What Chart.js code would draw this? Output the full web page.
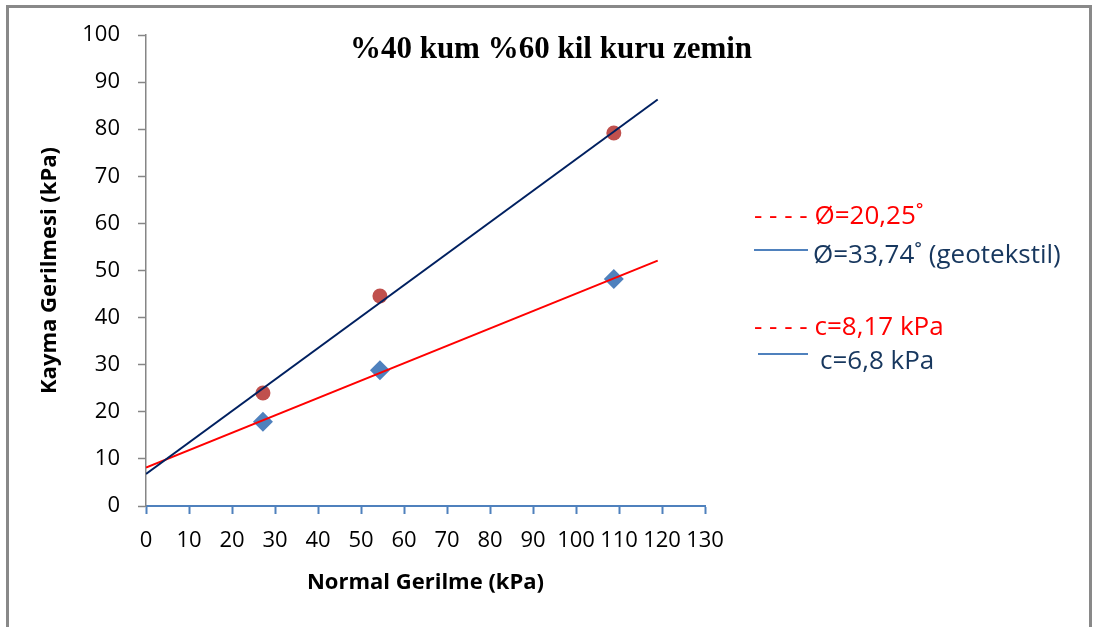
<!DOCTYPE html>
<html>
<head>
<meta charset="utf-8">
<script src="https://cdn.jsdelivr.net/npm/chart.js@4.4.1/dist/chart.umd.min.js"></script>
<style>
  html, body { margin: 0; padding: 0; background: #fff; overflow: hidden; }
  #wrap { position: relative; width: 1093px; height: 627px; }
  #frame { position: absolute; left: 6px; top: 5px; width: 1080px; height: 700px;
           border: 3px solid #898989; border-bottom: none; }
  #title { position: absolute; left: 300px; top: 30px; width: 502px; text-align: center;
           font: bold 31px "Liberation Serif", "Times New Roman", serif; white-space: nowrap; }
  .leg { position: absolute; font: 26px "Open Sans", sans-serif; white-space: nowrap; line-height: 30px; }
  .red { color: #ff0000; }
  .navy { color: #17375e; }
  .sw { position: absolute; height: 2px; background: #4f81bd; }
  canvas { position: absolute; left: 0; top: 0; }
</style>
</head>
<body>
<div id="wrap">
  <div id="frame"></div>
  <canvas id="c" width="1093" height="627"></canvas>
  <div id="title">%40 kum %60 kil kuru zemin</div>
  <div class="leg red" style="left:754px; top:199px;">- - - - Ø=20,25˚</div>
  <div class="sw" style="left:754px; top:249px; width:54px;"></div>
  <div class="leg navy" style="left:813px; top:238px;">Ø=33,74˚ (geotekstil)</div>
  <div class="leg red" style="left:754px; top:310px;">- - - - c=8,17 kPa</div>
  <div class="sw" style="left:758px; top:353px; width:50px;"></div>
  <div class="leg navy" style="left:820px; top:344px;">c=6,8 kPa</div>
</div>
<script>
// deney noktalari (normal gerilme, kayma gerilmesi)
const normalStress = [27.2, 54.4, 108.8];
const shearPlain = [17.9, 28.8, 48.2];      // mavi karolar
const shearGeo = [24.0, 44.6, 79.2];        // kirmizi daireler

// egilim cizgileri: uc noktalar
const trendX = [0, 119];
const trendRed = [8.17, 52.1];
const trendNavy = [6.8, 86.3];

const xTicks = [0, 10, 20, 30, 40, 50, 60, 70, 80, 90, 100, 110, 120, 130];
const yTicks = [0, 10, 20, 30, 40, 50, 60, 70, 80, 90, 100];

function pts(xs, ys) {
  return xs.map((x, i) => ({ x: x, y: ys[i] }));
}

const tickFont = { family: '"Open Sans", sans-serif', size: 22 };
const titleFont = { family: '"Open Sans", sans-serif', size: 22, weight: 'bold' };

new Chart(document.getElementById('c'), {
  type: 'scatter',
  data: {
    datasets: [
      {
        data: pts(trendX, trendNavy), showLine: true, borderColor: '#002060',
        borderWidth: 2, pointRadius: 0, order: 0
      },
      {
        data: pts(trendX, trendRed), showLine: true, borderColor: '#ff0000',
        borderWidth: 2, pointRadius: 0, order: 0
      },
      {
        data: pts(normalStress, shearGeo), pointStyle: 'circle', pointRadius: 7.5,
        backgroundColor: '#c0504d', borderColor: '#c0504d', borderWidth: 0, order: 1
      },
      {
        data: pts(normalStress, shearPlain), pointStyle: 'rectRot', pointRadius: 10,
        backgroundColor: '#4f81bd', borderColor: '#4f81bd', borderWidth: 0, order: 1
      }
    ]
  },
  options: {
    responsive: false,
    animation: false,
    devicePixelRatio: 1,
    layout: { padding: { left: 37, top: 35, right: 388, bottom: 31 } },
    plugins: { legend: { display: false }, tooltip: { enabled: false } },
    scales: {
      x: {
        type: 'linear', min: 0, max: 130,
        afterBuildTicks: s => { s.ticks = xTicks.map(v => ({ value: v })); },
        afterFit: s => { s.height = 90; },
        border: { color: '#4f81bd', width: 2 },
        grid: { drawOnChartArea: false, tickLength: 8, tickColor: '#4f81bd', tickWidth: 2 },
        ticks: { font: tickFont, color: '#000', padding: 14, maxRotation: 0, autoSkip: false },
        title: { display: true, text: 'Normal Gerilme (kPa)', font: titleFont, color: '#000', padding: 0 }
      },
      y: {
        type: 'linear', min: 0, max: 100,
        afterBuildTicks: s => { s.ticks = yTicks.map(v => ({ value: v })); },
        afterFit: s => { s.width = 109; },
        border: { color: '#868686', width: 1.5 },
        grid: { drawOnChartArea: false, tickLength: 8, tickColor: '#868686', tickWidth: 1.5 },
        ticks: { font: tickFont, color: '#000', padding: 18 },
        title: { display: true, text: 'Kayma Gerilmesi (kPa)', font: titleFont, color: '#000', padding: 0 }
      }
    }
  }
});
</script>
</body>
</html>
